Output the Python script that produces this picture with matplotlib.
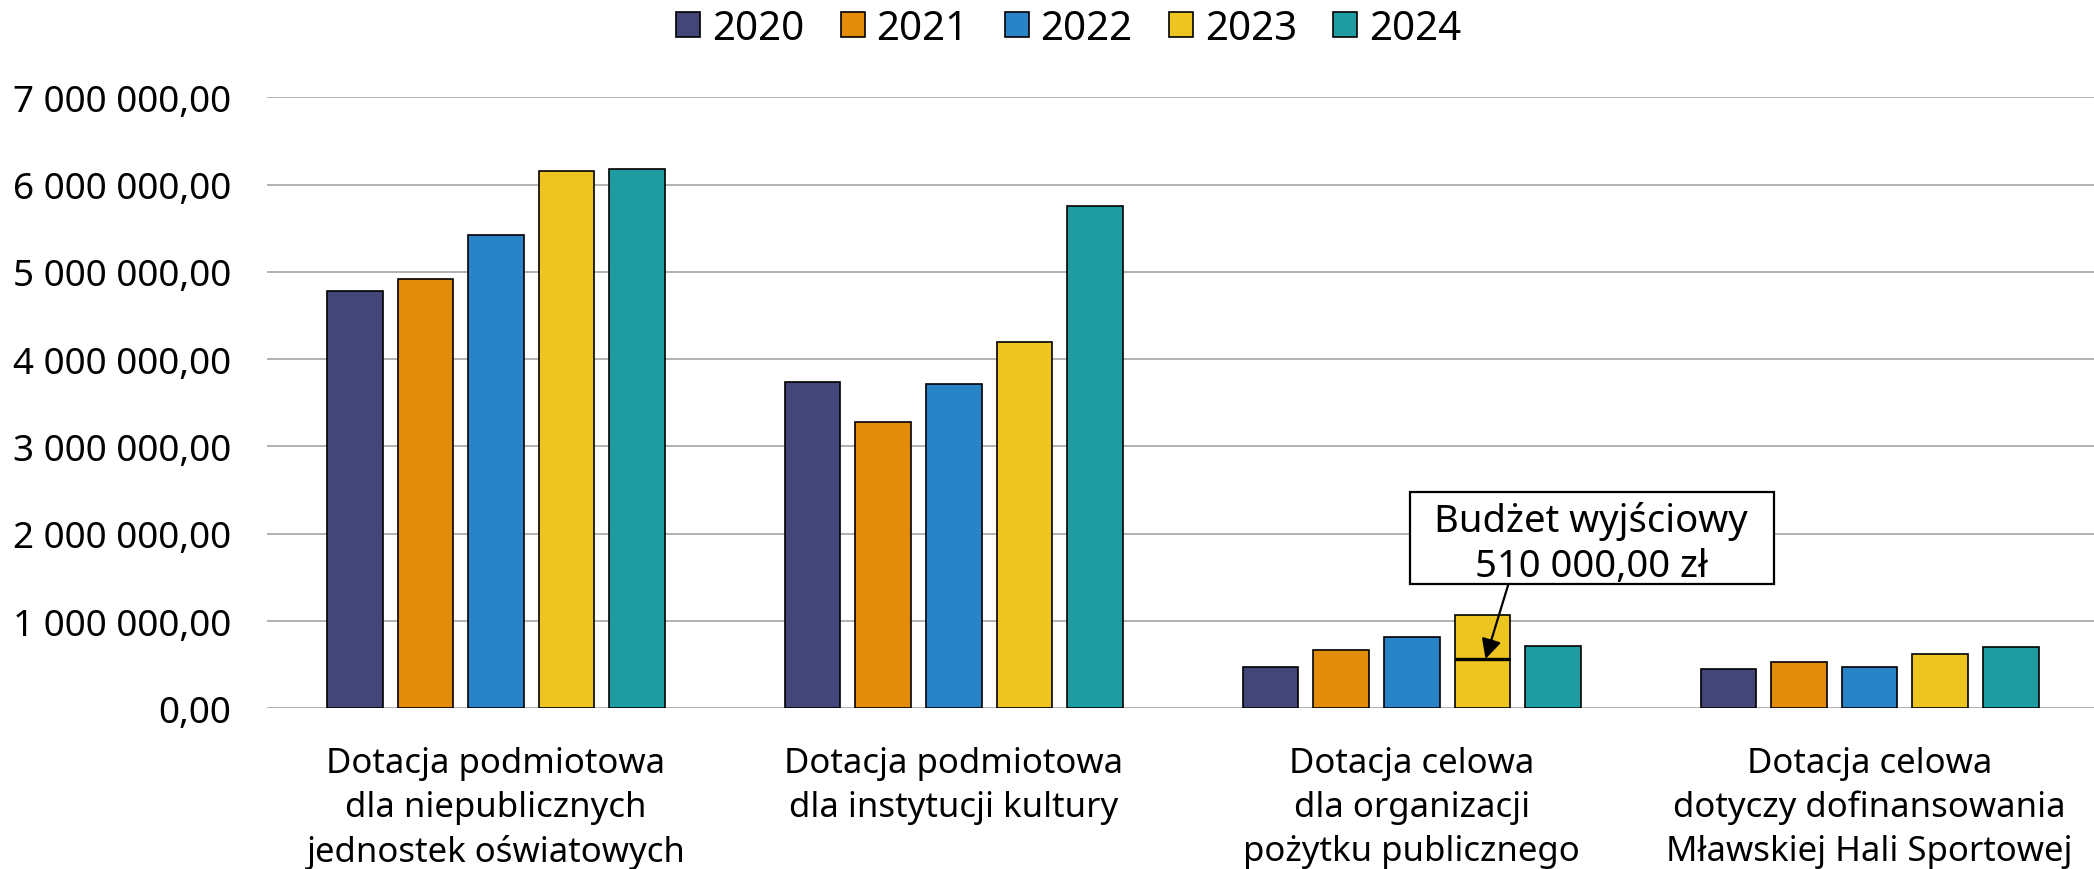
import matplotlib
matplotlib.use("Agg")
import matplotlib.pyplot as plt
import numpy as np
from matplotlib.patches import Patch, Rectangle
from matplotlib.ticker import FuncFormatter, MultipleLocator

plt.rcParams["font.family"] = ["Noto Sans", "DejaVu Sans"]

# Data ##################################

categories = [
    "Dotacja podmiotowa\ndla niepublicznych\njednostek oświatowych",
    "Dotacja podmiotowa\ndla instytucji kultury",
    "Dotacja celowa\ndla organizacji\npożytku publicznego",
    "Dotacja celowa\ndotyczy dofinansowania\nMławskiej Hali Sportowej",
]
years = ["2020", "2021", "2022", "2023", "2024"]

values_2020 = [4784000, 3735000, 470000, 452000]
values_2021 = [4915000, 3275000, 668000, 530000]
values_2022 = [5425000, 3720000, 813000, 478000]
values_2023 = [6159000, 4195000, 1072000, 623000]
values_2024 = [6178000, 5757000, 714000, 703000]
series = [values_2020, values_2021, values_2022, values_2023, values_2024]

colors = ["#434678", "#E38C0A", "#2983C7", "#ECC521", "#1F9CA1"]

# budget marker on the 2023 bar of the third category
budget_label = "Budżet wyjściowy\n510 000,00 zł"
budget_mark = 565000
budget_cat = 2
budget_year = 3


def pl_money(v, _pos=None):
    return f"{v:,.2f}".replace(",", " ").replace(".", ",")


# Plot ##################################

fig = plt.figure(figsize=(20.94, 8.70), dpi=100)
ax = fig.add_axes([0.1275, 0.1847, 0.8725, 0.7023])

x = np.arange(len(categories))
pitch = 0.1542
width = 0.1215
offsets = (np.arange(len(years)) - 2) * pitch

for i, (vals, col) in enumerate(zip(series, colors)):
    ax.bar(x + offsets[i], vals, width, color=col, edgecolor="black",
           linewidth=1.2, zorder=3)

ax.set_xlim(-0.5, 3.49)
ax.set_ylim(0, 7000000)
ax.yaxis.set_major_locator(MultipleLocator(1000000))
ax.yaxis.set_major_formatter(FuncFormatter(pl_money))
ax.grid(axis="y", color="#ababab", linewidth=1.3, zorder=0)
ax.set_axisbelow(True)
for s in ax.spines.values():
    s.set_visible(False)

ax.tick_params(axis="y", length=0, pad=26, labelsize=26.5)
ax.tick_params(axis="x", length=0, pad=27)
ax.set_xticks(x)
ax.set_xticklabels(categories, fontsize=25, linespacing=1.38)

# budget annotation
bx = x[budget_cat] + offsets[budget_year]
ax.hlines(budget_mark, bx - width / 2, bx + width / 2, color="black",
          linewidth=2.4, zorder=4)
ax.annotate("", xy=(bx + 0.007, budget_mark), xytext=(bx + 0.057, 1424000),
            arrowprops=dict(arrowstyle="-|>", color="black", lw=1.6,
                            mutation_scale=30, shrinkA=0, shrinkB=0),
            zorder=5)
ax.add_patch(Rectangle((bx - 0.159, 1424000), 0.795, 1050000,
                       facecolor="white", edgecolor="black", linewidth=1.6,
                       zorder=5))
line1, line2 = budget_label.split("\n")
ax.text(bx + 0.238, 2034000, line1, ha="center", va="baseline",
        fontsize=27.5, zorder=6)
ax.text(bx + 0.238, 1519000, line2, ha="center", va="baseline",
        fontsize=27.5, zorder=6)

handles = [Patch(facecolor=c, edgecolor="black", linewidth=1.2) for c in colors]
fig.legend(handles, years, ncol=5, loc="center",
           bbox_to_anchor=(1068.7 / 2094, 1 - 29.5 / 870), frameon=False,
           fontsize=29, handlelength=0.6, handleheight=0.6,
           handletextpad=0.29, columnspacing=0.9, borderpad=0)

fig.savefig("out.png", dpi=100)
plt.close(fig)
